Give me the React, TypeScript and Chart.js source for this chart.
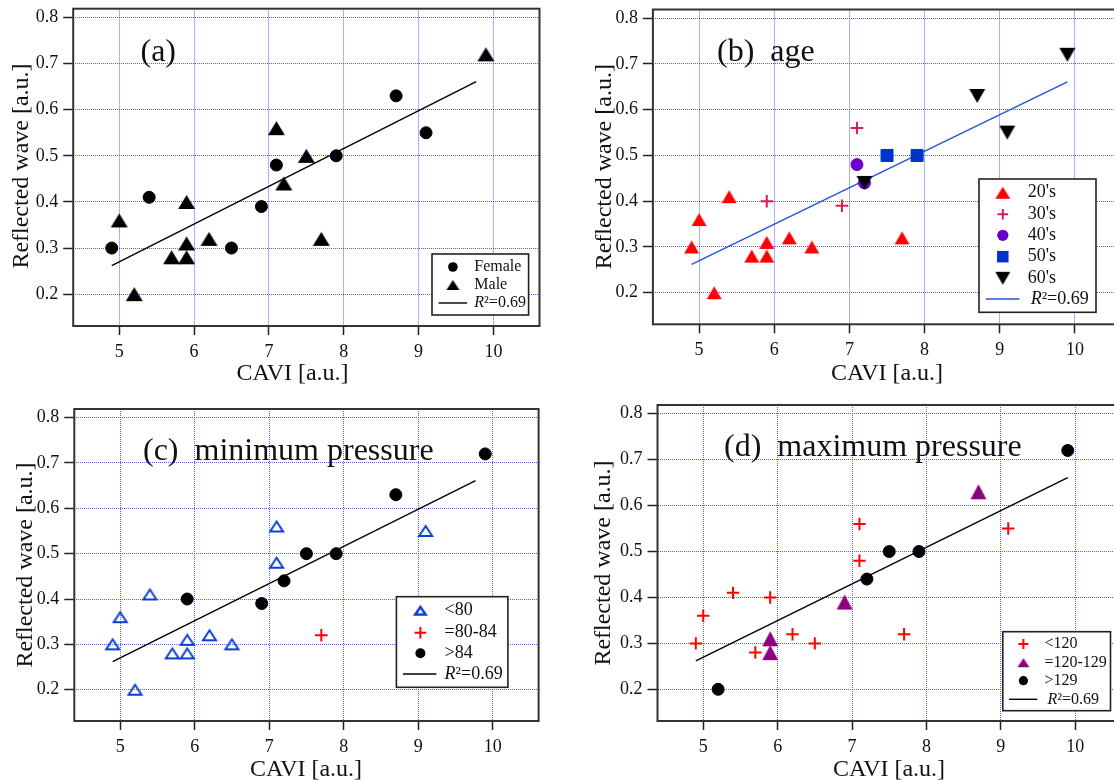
import React, { useEffect, useRef } from 'react';
import { Chart, registerables } from 'chart.js';

Chart.register(...registerables);

// ---------------- axes ----------------
const X_TICKS = [5, 6, 7, 8, 9, 10];
const Y_TICKS = [0.2, 0.3, 0.4, 0.5, 0.6, 0.7, 0.8];
const X_RANGE = [4.385, 10.616];
const Y_RANGE = [0.131, 0.819];
const X_TITLE = 'CAVI [a.u.]';
const Y_TITLE = 'Reflected wave [a.u.]';
const R2_VALUE = '0.69';

// ---------------- (a) sex ----------------
const FEMALE_CAVI = [4.9, 5.4, 6.5, 6.9, 7.1, 7.9, 8.7, 9.1];
const FEMALE_RW = [0.30, 0.41, 0.30, 0.39, 0.48, 0.50, 0.63, 0.55];
const MALE_CAVI = [5.0, 5.2, 5.7, 5.9, 5.9, 5.9, 6.2, 7.1, 7.2, 7.5, 7.7, 9.9];
const MALE_RW = [0.36, 0.20, 0.28, 0.40, 0.31, 0.28, 0.32, 0.56, 0.44, 0.50, 0.32, 0.72];

// ---------------- (b) age ----------------
const AGE20_CAVI = [4.9, 5.0, 5.2, 5.4, 5.7, 5.9, 5.9, 6.2, 6.5, 7.7];
const AGE20_RW = [0.30, 0.36, 0.20, 0.41, 0.28, 0.31, 0.28, 0.32, 0.30, 0.32];
const AGE30_CAVI = [5.9, 6.9, 7.1];
const AGE30_RW = [0.40, 0.39, 0.56];
const AGE40_CAVI = [7.1, 7.2];
const AGE40_RW = [0.48, 0.44];
const AGE50_CAVI = [7.5, 7.9];
const AGE50_RW = [0.50, 0.50];
const AGE60_CAVI = [7.2, 8.7, 9.1, 9.9];
const AGE60_RW = [0.44, 0.63, 0.55, 0.72];

// ---------------- (c) minimum pressure ----------------
const DBP_LOW_CAVI = [4.9, 5.0, 5.2, 5.4, 5.7, 5.9, 5.9, 6.2, 6.5, 7.1, 7.1, 9.1];
const DBP_LOW_RW = [0.30, 0.36, 0.20, 0.41, 0.28, 0.31, 0.28, 0.32, 0.30, 0.56, 0.48, 0.55];
const DBP_MID_CAVI = [7.7];
const DBP_MID_RW = [0.32];
const DBP_HIGH_CAVI = [5.9, 6.9, 7.2, 7.5, 7.9, 8.7, 9.9];
const DBP_HIGH_RW = [0.40, 0.39, 0.44, 0.50, 0.50, 0.63, 0.72];

// ---------------- (d) maximum pressure ----------------
const SBP_LOW_CAVI = [4.9, 5.0, 5.4, 5.7, 5.9, 6.2, 6.5, 7.1, 7.1, 7.7, 9.1];
const SBP_LOW_RW = [0.30, 0.36, 0.41, 0.28, 0.40, 0.32, 0.30, 0.56, 0.48, 0.32, 0.55];
const SBP_MID_CAVI = [5.9, 5.9, 6.9, 8.7];
const SBP_MID_RW = [0.31, 0.28, 0.39, 0.63];
const SBP_HIGH_CAVI = [5.2, 7.2, 7.5, 7.9, 9.9];
const SBP_HIGH_RW = [0.20, 0.44, 0.50, 0.50, 0.72];

// ---------------- regression lines ----------------
const FIT_AC_CAVI = [4.9, 9.77];
const FIT_AC_RW = [0.262, 0.661];
const FIT_BD_CAVI = [4.9, 9.9];
const FIT_BD_RW = [0.262, 0.661];

// ---------------- styling / layout ----------------
const FONT = '"Liberation Serif", "Times New Roman", serif';
const GRID = 'rgba(50, 50, 255, 0.8)';
const INK = '#111';

const BOXES = [
  { left: 0, top: 0, w: 557, h: 390, plot: [73.2, 8.7, 539.5, 326] },
  { left: 557, top: 0, w: 583, h: 390, plot: [652.9, 8.7, 1121.2, 324.3] },
  { left: 0, top: 390, w: 557, h: 390, plot: [74.3, 409, 538.6, 721] },
  { left: 557, top: 390, w: 583, h: 390, plot: [657.5, 405, 1121, 721] },
];

const pts = (xs: number[], ys: number[]) => xs.map((x, i) => ({ x, y: ys[i] }));

function makeTri(w: number, h: number, fill: string | null, stroke: string | null, lw: number, down = false) {
  const P = 3;
  const c = document.createElement('canvas');
  c.width = w + 2 * P;
  c.height = h + 2 * P;
  const g = c.getContext('2d')!;
  const i = stroke ? lw / 2 : 0;
  const x0 = P + i, x1 = P + w - i, xm = P + w / 2;
  const yT = P + i, yB = P + h - i;
  g.beginPath();
  if (down) {
    g.moveTo(x0, yT); g.lineTo(x1, yT); g.lineTo(xm, yB);
  } else {
    g.moveTo(xm, yT); g.lineTo(x1, yB); g.lineTo(x0, yB);
  }
  g.closePath();
  if (fill) { g.fillStyle = fill; g.fill(); }
  if (stroke) { g.strokeStyle = stroke; g.lineWidth = lw; g.lineJoin = 'miter'; g.stroke(); }
  return c;
}

function pointSet(data: any[], style: any, radius: number, fill: string, stroke: string, bw: number) {
  return {
    data,
    showLine: false,
    pointStyle: style,
    pointRadius: radius,
    pointBackgroundColor: fill,
    pointBorderColor: stroke,
    pointBorderWidth: bw,
    backgroundColor: fill,
    borderColor: stroke,
  };
}

function lineSet(xs: number[], ys: number[], color: string) {
  return {
    data: pts(xs, ys),
    showLine: true,
    borderColor: color,
    borderWidth: 1.4,
    pointRadius: 0,
    fill: false,
  };
}

function buildPanels() {
  const triA = makeTri(17, 14, '#000', null, 0);
  const triALeg = makeTri(13, 10, '#000', null, 0);
  const triB = makeTri(15, 13, '#ff0000', null, 0);
  const triBLeg = makeTri(15, 12, '#ff0000', null, 0);
  const downB = makeTri(16, 14, '#000', null, 0, true);
  const downBLeg = makeTri(15, 13, '#000', null, 0, true);
  const openC = makeTri(15, 12, null, '#0a3fd0', 2);
  const openCLeg = makeTri(13, 10, null, '#0a3fd0', 2.4);
  const triD = makeTri(16, 15, '#8c0080', null, 0);
  const triDLeg = makeTri(12, 9, '#8c0080', null, 0);

  const CRIMSON = '#d81b60';
  const PURPLE = '#6a00cc';
  const BLUE = '#0033cc';
  const FITBLUE = '#2255dd';

  return [
    {
      ...BOXES[0],
      label: { text: '(a)', x: 140.5, y: 61 },
      xTitle: { x: 292.5, y: 380 },
      yTitle: { x: 28, y: 166 },
      datasets: [
        pointSet(pts(FEMALE_CAVI, FEMALE_RW), 'circle', 6, '#000', '#000', 1),
        pointSet(pts(MALE_CAVI, MALE_RW), triA, 8, '#000', '#000', 0),
        lineSet(FIT_AC_CAVI, FIT_AC_RW, '#000'),
      ],
      legend: {
        box: [432, 254, 528.6, 315], symX: 452.9, textX: 474.3, line: [438.6, 467.1],
        rows: [267, 285, 303], font: 16, rOff: 0,
        items: [
          { kind: 'circle', color: '#000', r: 4.8, label: 'Female' },
          { kind: 'img', img: triALeg, label: 'Male' },
          { kind: 'line', color: '#000' },
        ],
      },
    },
    {
      ...BOXES[1],
      label: { text: '(b)  age', x: 717, y: 61 },
      xTitle: { x: 887, y: 380 },
      yTitle: { x: 611, y: 166.7 },
      datasets: [
        pointSet(pts(AGE60_CAVI, AGE60_RW), downB, 8, '#000', '#000', 0),
        pointSet(pts(AGE50_CAVI, AGE50_RW), 'rect', 8.5, BLUE, BLUE, 1),
        pointSet(pts(AGE40_CAVI, AGE40_RW), 'circle', 6, PURPLE, PURPLE, 1),
        pointSet(pts(AGE30_CAVI, AGE30_RW), 'cross', 6.3, CRIMSON, CRIMSON, 2),
        pointSet(pts(AGE20_CAVI, AGE20_RW), triB, 8, '#ff0000', '#ff0000', 0),
        lineSet(FIT_BD_CAVI, FIT_BD_RW, FITBLUE),
      ],
      legend: {
        box: [979, 179, 1096, 312.3], symX: 1002.8, textX: 1027.7, line: [985.8, 1019.5],
        rows: [192.7, 214.3, 235.3, 256.7, 278.3, 299], font: 18, rOff: 3,
        items: [
          { kind: 'img', img: triBLeg, label: "20's" },
          { kind: 'plus', color: CRIMSON, r: 5.3, lw: 2, label: "30's" },
          { kind: 'circle', color: PURPLE, r: 5.6, label: "40's" },
          { kind: 'square', color: BLUE, s: 11.5, label: "50's" },
          { kind: 'img', img: downBLeg, label: "60's" },
          { kind: 'line', color: FITBLUE },
        ],
      },
    },
    {
      ...BOXES[2],
      label: { text: '(c)  minimum pressure', x: 143, y: 460 },
      xTitle: { x: 306, y: 776 },
      yTitle: { x: 31.5, y: 565 },
      datasets: [
        pointSet(pts(DBP_HIGH_CAVI, DBP_HIGH_RW), 'circle', 6, '#000', '#000', 1),
        pointSet(pts(DBP_MID_CAVI, DBP_MID_RW), 'cross', 6.3, '#ff0000', '#ff0000', 2),
        pointSet(pts(DBP_LOW_CAVI, DBP_LOW_RW), openC, 8, '#0a3fd0', '#0a3fd0', 0),
        lineSet(FIT_AC_CAVI, FIT_AC_RW, '#000'),
      ],
      legend: {
        box: [396.4, 596.7, 507.9, 687.3], symX: 420.4, textX: 444.6, line: [402.9, 436.4],
        rows: [610.7, 632.7, 653.3, 674], font: 18, rOff: 0,
        items: [
          { kind: 'img', img: openCLeg, label: '<80' },
          { kind: 'plus', color: '#ff0000', r: 5.8, lw: 2, label: '=80-84' },
          { kind: 'circle', color: '#000', r: 5, label: '>84' },
          { kind: 'line', color: '#000' },
        ],
      },
    },
    {
      ...BOXES[3],
      label: { text: '(d)  maximum pressure', x: 724, y: 456 },
      xTitle: { x: 889, y: 776 },
      yTitle: { x: 610, y: 563 },
      datasets: [
        pointSet(pts(SBP_HIGH_CAVI, SBP_HIGH_RW), 'circle', 6, '#000', '#000', 1),
        pointSet(pts(SBP_MID_CAVI, SBP_MID_RW), triD, 8, '#8c0080', '#8c0080', 0),
        pointSet(pts(SBP_LOW_CAVI, SBP_LOW_RW), 'cross', 6.2, '#ff0000', '#ff0000', 2),
        lineSet(FIT_BD_CAVI, FIT_BD_RW, '#000'),
      ],
      legend: {
        box: [1002.8, 631.7, 1110.5, 710.7], symX: 1023.4, textX: 1044.4, line: [1008.9, 1037.3],
        rows: [644, 662.7, 680.7, 699.3], font: 16, rOff: 3,
        items: [
          { kind: 'plus', color: '#ff0000', r: 5, lw: 2, label: '<120' },
          { kind: 'img', img: triDLeg, label: '=120-129' },
          { kind: 'circle', color: '#000', r: 4.6, label: '>129' },
          { kind: 'line', color: '#000' },
        ],
      },
    },
  ];
}

function drawSymbol(ctx: CanvasRenderingContext2D, it: any, x: number, y: number, l0: number, l1: number) {
  ctx.save();
  if (it.kind === 'img') {
    ctx.drawImage(it.img, x - it.img.width / 2, y - it.img.height / 2);
  } else if (it.kind === 'circle') {
    ctx.beginPath();
    ctx.arc(x, y, it.r, 0, Math.PI * 2);
    ctx.fillStyle = it.color;
    ctx.fill();
  } else if (it.kind === 'square') {
    ctx.fillStyle = it.color;
    ctx.fillRect(x - it.s / 2, y - it.s / 2, it.s, it.s);
  } else if (it.kind === 'plus') {
    ctx.strokeStyle = it.color;
    ctx.lineWidth = it.lw;
    ctx.beginPath();
    ctx.moveTo(x - it.r, y); ctx.lineTo(x + it.r, y);
    ctx.moveTo(x, y - it.r); ctx.lineTo(x, y + it.r);
    ctx.stroke();
  } else if (it.kind === 'line') {
    ctx.strokeStyle = it.color;
    ctx.lineWidth = 1.4;
    ctx.beginPath();
    ctx.moveTo(l0, y); ctx.lineTo(l1, y);
    ctx.stroke();
  }
  ctx.restore();
}

function decoPlugin(p: any) {
  return {
    id: 'deco',
    afterDraw(chart: any) {
      const ctx: CanvasRenderingContext2D = chart.ctx;
      const ox = p.left, oy = p.top;
      const ca = chart.chartArea;
      ctx.save();
      // frame
      ctx.strokeStyle = '#333';
      ctx.lineWidth = 2;
      ctx.strokeRect(ca.left, ca.top, ca.right - ca.left, ca.bottom - ca.top);

      // panel label
      ctx.fillStyle = INK;
      ctx.textAlign = 'left';
      ctx.textBaseline = 'alphabetic';
      ctx.font = `32px ${FONT}`;
      ctx.fillText(p.label.text, p.label.x - ox, p.label.y - oy);

      // axis titles
      ctx.font = `24px ${FONT}`;
      ctx.textAlign = 'center';
      ctx.fillText(X_TITLE, p.xTitle.x - ox, p.xTitle.y - oy);
      ctx.save();
      ctx.translate(p.yTitle.x - ox, p.yTitle.y - oy);
      ctx.rotate(-Math.PI / 2);
      ctx.fillText(Y_TITLE, 0, 0);
      ctx.restore();

      // legend
      const L = p.legend;
      const [bl, bt, br, bb] = L.box;
      ctx.fillStyle = '#fff';
      ctx.fillRect(bl - ox, bt - oy, br - bl, bb - bt);
      ctx.strokeStyle = '#222';
      ctx.lineWidth = 1.6;
      ctx.strokeRect(bl - ox, bt - oy, br - bl, bb - bt);
      L.items.forEach((it: any, i: number) => {
        const y = L.rows[i] - oy;
        drawSymbol(ctx, it, L.symX - ox, y, L.line[0] - ox, L.line[1] - ox);
        ctx.fillStyle = INK;
        ctx.textAlign = 'left';
        ctx.textBaseline = 'middle';
        if (it.kind === 'line') {
          const tx = L.textX - ox + L.rOff;
          ctx.font = `italic ${L.font}px ${FONT}`;
          ctx.fillText('R', tx, y);
          const w = ctx.measureText('R').width;
          ctx.font = `${L.font}px ${FONT}`;
          ctx.fillText('\u00B2=' + R2_VALUE, tx + w, y);
        } else {
          ctx.font = `${L.font}px ${FONT}`;
          ctx.fillText(it.label, L.textX - ox, y);
        }
      });
      ctx.restore();
    },
  };
}

function makeChart(canvas: HTMLCanvasElement, p: any) {
  const [pl, pt, pr, pb] = p.plot;
  const padTop = pt - p.top;
  const yW = pl - p.left;
  const padRight = p.left + p.w - pr;
  const xH = p.top + p.h - pb;
  const zeroPad = (s: any) => { s.paddingLeft = 0; s.paddingRight = 0; s.paddingTop = 0; s.paddingBottom = 0; };
  return new Chart(canvas, {
    type: 'scatter',
    data: { datasets: p.datasets },
    options: {
      responsive: false,
      maintainAspectRatio: false,
      animation: false,
      devicePixelRatio: 1,
      events: [],
      layout: { padding: { left: 0, top: padTop, right: padRight, bottom: 0 } },
      plugins: { legend: { display: false }, tooltip: { enabled: false } },
      scales: {
        x: {
          type: 'linear',
          bounds: 'data',
          min: X_RANGE[0],
          max: X_RANGE[1],
          afterBuildTicks: (s: any) => { s.ticks = X_TICKS.map((v) => ({ value: v })); },
          afterFit: (s: any) => { s.height = xH; zeroPad(s); },
          grid: { color: GRID, lineWidth: 1, drawTicks: true, tickLength: 9, tickColor: '#222', tickWidth: 1.5, tickBorderDash: [] },
          border: { display: false, dash: [1, 1] },
          ticks: { font: { family: FONT, size: 18 }, color: INK, padding: 6, maxRotation: 0, autoSkip: false, callback: (v: any) => String(v) },
        },
        y: {
          type: 'linear',
          bounds: 'data',
          min: Y_RANGE[0],
          max: Y_RANGE[1],
          afterBuildTicks: (s: any) => { s.ticks = Y_TICKS.map((v) => ({ value: v })); },
          afterFit: (s: any) => { s.width = yW; zeroPad(s); },
          grid: { color: GRID, lineWidth: 1, drawTicks: true, tickLength: 10, tickColor: '#222', tickWidth: 1.5, tickBorderDash: [] },
          border: { display: false, dash: [1, 1] },
          ticks: { font: { family: FONT, size: 18 }, color: INK, padding: 5, autoSkip: false, callback: (v: any) => Number(v).toFixed(1) },
        },
      },
    } as any,
    plugins: [decoPlugin(p)],
  });
}

export default function App() {
  const canvases = useRef<(HTMLCanvasElement | null)[]>([]);
  useEffect(() => {
    const panels = buildPanels();
    const charts = panels.map((p, i) => makeChart(canvases.current[i]!, p));
    const fontsApi: any = (document as any).fonts;
    if (fontsApi && fontsApi.load) {
      Promise.all([
        fontsApi.load(`18px ${FONT}`),
        fontsApi.load(`italic 18px ${FONT}`),
      ]).then(() => charts.forEach((c) => c.update())).catch(() => {});
    }
    return () => charts.forEach((c) => c.destroy());
  }, []);
  return (
    <div style={{ position: 'absolute', left: 0, top: 0, width: 1114, height: 780, overflow: 'hidden', background: '#fff' }}>
      {BOXES.map((b, i) => (
        <canvas
          key={i}
          ref={(el) => { canvases.current[i] = el; }}
          width={b.w}
          height={b.h}
          style={{ position: 'absolute', left: b.left, top: b.top, width: b.w, height: b.h }}
        />
      ))}
    </div>
  );
}
